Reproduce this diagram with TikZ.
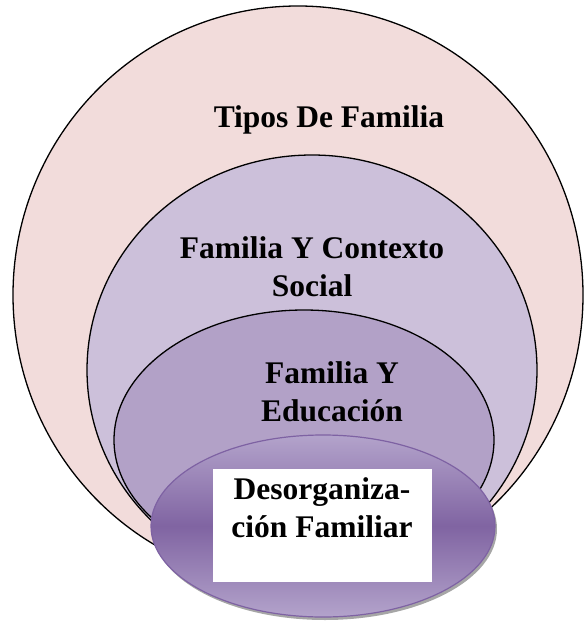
\documentclass[tikz,border=0pt]{standalone}
\usepackage{fontspec}
\setmainfont{Liberation Serif}
\definecolor{tipospink}{HTML}{F2DCDB}
\definecolor{contextolila}{HTML}{CCC0DA}
\definecolor{educalila}{HTML}{B2A1C7}
\definecolor{desordark}{HTML}{8064A2}
\definecolor{desorlight}{HTML}{B3A3CB}
\definecolor{desorline}{HTML}{7E62A3}
\tikzset{
  ring/.style={draw=black, line width=1.3pt},
  lbl/.style={font=\fontsize{31.5}{37.5}\selectfont\bfseries, align=center, inner sep=0pt, anchor=base}
}
\begin{document}
\begin{tikzpicture}[x=1pt,y=1pt,yscale=-1,xscale=1]
\useasboundingbox (0,0) rectangle (584,621);

%Shape: Ellipse [Tipos]
\draw[ring, fill=tipospink] (298,295) ellipse [x radius=285, y radius=289];
%Shape: Ellipse [Contexto]
\draw[ring, fill=contextolila] (312,370) ellipse [x radius=225, y radius=215];
%Shape: Ellipse [Educacion]
\draw[ring, fill=educalila] (304,440) ellipse [x radius=190, y radius=130];
%Shape: Ellipse shadow
\fill[black, opacity=0.35] (325,529) ellipse [x radius=172, y radius=91];
%Shape: Ellipse [Desorganizacion]
\shade[top color=desorlight, bottom color=desorlight, middle color=desordark, draw=desorline, line width=1.2pt] (323,526) ellipse [x radius=172, y radius=91];
%Shape: Rectangle
\fill[white] (213,469) rectangle (432,582);

%Text Nodes (base = last line)
\node[lbl] (tipos) at (329,127) {Tipos De Familia};
\node[lbl] (contexto) at (312,296) {Familia Y Contexto\\Social};
\node[lbl] (educacion) at (332,421) {Familia Y\\Educación};
\node[lbl] (desorg) at (322,537) {Desorganiza-\\ción Familiar};

\end{tikzpicture}
\end{document}
